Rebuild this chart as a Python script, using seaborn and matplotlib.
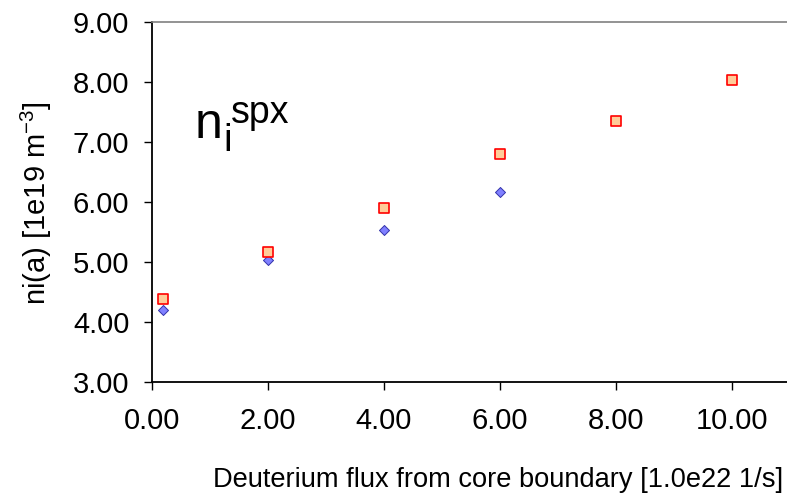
import matplotlib
matplotlib.use("Agg")
import matplotlib.pyplot as plt
import seaborn as sns
import pandas as pd

# data
flux_sq = [0.2, 2.0, 4.0, 6.0, 8.0, 10.0]
ni_sq = [4.39, 5.17, 5.89, 6.79, 7.35, 8.03]
flux_dm = [0.2, 2.0, 4.0, 6.0]
ni_dm = [4.20, 5.03, 5.53, 6.16]
xticks = [0, 2, 4, 6, 8, 10]
yticks = [3, 4, 5, 6, 7, 8, 9]

sns.set_theme(style="white")
plt.rcParams['font.family'] = ['Liberation Sans', 'DejaVu Sans']
plt.rcParams['mathtext.fontset'] = 'custom'
plt.rcParams['mathtext.rm'] = 'Liberation Sans'
plt.rcParams['mathtext.it'] = 'Liberation Sans'
plt.rcParams['text.color'] = 'black'
plt.rcParams['axes.labelcolor'] = 'black'
plt.rcParams['xtick.color'] = 'black'
plt.rcParams['ytick.color'] = 'black'

W, H = 787, 504
fig = plt.figure(figsize=(W / 100, H / 100), dpi=100)
left, right, top, bottom = 151.6, 787, 21.7, 382
ax = fig.add_axes([left / W, (H - bottom) / H, (right - left) / W, (bottom - top) / H])

df_sq = pd.DataFrame({"x": flux_sq, "y": ni_sq})
df_dm = pd.DataFrame({"x": flux_dm, "y": ni_dm})
sns.scatterplot(data=df_dm, x="x", y="y", ax=ax, marker="D", s=26,
                color="#8080ff", edgecolor="#3333aa", linewidth=0.7, zorder=3)
sns.scatterplot(data=df_sq, x="x", y="y", ax=ax, marker="s", s=50,
                color="#ffcc99", edgecolor="#ff0000", linewidth=1.2, zorder=4)

ax.set_xlim(0, (right - left) / 58.0)
ax.set_ylim(3, 9)
ax.set_xticks(xticks)
ax.set_yticks(yticks)
ax.set_xticklabels([f"{v:.2f}" for v in xticks])
ax.set_yticklabels([f"{v:.2f}" for v in yticks])
ax.tick_params(axis="both", which="major", labelsize=21, length=6, width=1,
               direction="out", bottom=True, left=True, pad=10,
               colors="black", labelcolor="black")
ax.tick_params(axis="x", pad=12)
ax.spines["right"].set_visible(False)
ax.spines["top"].set_color("#808080")
ax.spines["top"].set_linewidth(1.2)
for s in ["left", "bottom"]:
    ax.spines[s].set_color("#000000")
    ax.spines[s].set_linewidth(1.3)

ax.set_xlabel("")
ax.set_ylabel("")
fig.text(36 / W, 1 - 203 / H, r"ni(a) [1e19 m$^{-3}$]", fontsize=21,
         rotation=90, ha="center", va="center", color="black")
fig.text(498 / W, 1 - 480 / H, "Deuterium flux from core boundary [1.0e22 1/s]",
         fontsize=19.6, ha="center", va="center", color="black")

# annotation n_i^spx
fig.text(195 / W, 1 - 138 / H, "n", fontsize=36, ha="left", va="baseline", color="black")
fig.text(223 / W, 1 - 151 / H, "i", fontsize=28, ha="left", va="baseline", color="black")
fig.text(231 / W, 1 - 123 / H, "spx", fontsize=27, ha="left", va="baseline", color="black")

fig.savefig("out.png", dpi=100)
